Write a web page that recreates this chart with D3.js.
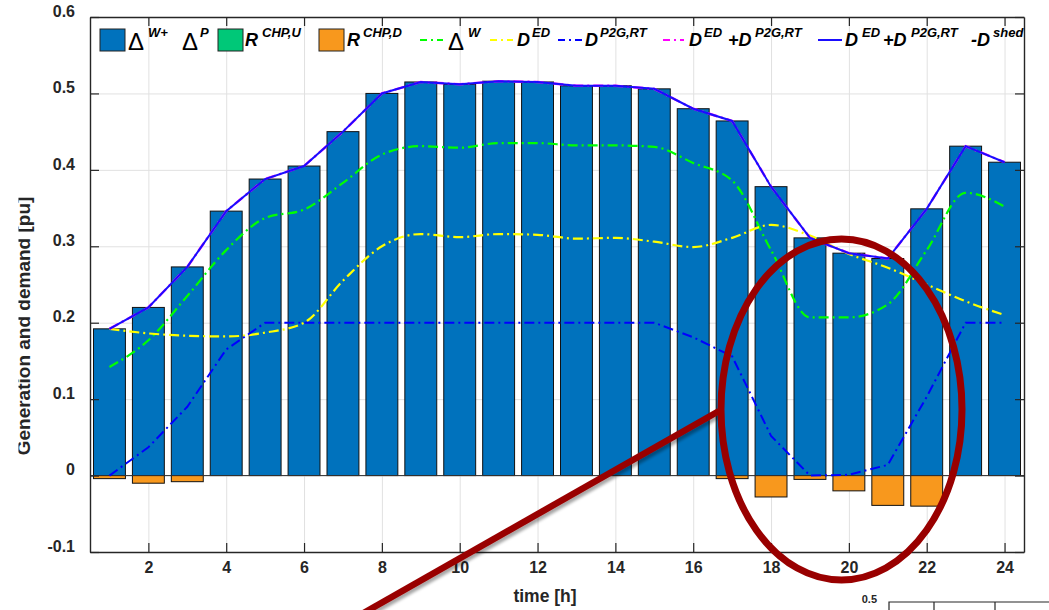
<!DOCTYPE html>
<html>
<head>
<meta charset="utf-8">
<script src="https://cdn.jsdelivr.net/npm/d3@7"></script>
<style>
  body { margin: 0; background: #fff; }
  svg { display: block; font-family: "Liberation Sans", Arial, sans-serif; }
</style>
</head>
<body>
<script>
// hourly values (pu)
var hours = d3.range(1, 25);
var xTicks = [2, 4, 6, 8, 10, 12, 14, 16, 18, 20, 22, 24];
var yTicks = [-0.1, 0, 0.1, 0.2, 0.3, 0.4, 0.5, 0.6];
var yTickLabels = ['-0.1', '0', '0.1', '0.2', '0.3', '0.4', '0.5', '0.6'];

var wPlus = [0.192, 0.220, 0.273, 0.346, 0.388, 0.405, 0.450, 0.500, 0.515, 0.512, 0.516, 0.515,
             0.510, 0.510, 0.506, 0.480, 0.464, 0.378, 0.311, 0.291, 0.284, 0.349, 0.431, 0.410];
var chpUp = [0, 0, 0, 0, 0, 0, 0, 0, 0, 0, 0, 0, 0, 0, 0, 0, 0, 0, 0, 0, 0, 0, 0, 0];
var chpDown = [-0.004, -0.010, -0.008, 0, 0, 0, 0, 0, 0, 0, 0, 0,
               0, 0, 0, 0, -0.004, -0.028, -0.005, -0.020, -0.039, -0.040, 0, 0];
var deltaW = [0.142, 0.177, 0.235, 0.295, 0.337, 0.348, 0.383, 0.420, 0.431, 0.429, 0.435, 0.435,
              0.432, 0.432, 0.430, 0.409, 0.386, 0.295, 0.207, 0.207, 0.224, 0.295, 0.370, 0.352];
var dED = [0.192, 0.186, 0.183, 0.182, 0.187, 0.200, 0.255, 0.300, 0.316, 0.312, 0.316, 0.315,
           0.310, 0.311, 0.306, 0.299, 0.311, 0.328, 0.314, 0.290, 0.272, 0.250, 0.228, 0.210];
var dP2G = [0, 0.037, 0.090, 0.165, 0.200, 0.200, 0.200, 0.200, 0.200, 0.200, 0.200, 0.200,
            0.200, 0.200, 0.200, 0.181, 0.156, 0.052, 0, 0.001, 0.014, 0.103, 0.200, 0.200];
// D_ED + D_P2G (shed is zero, so the solid line sits on the same points)
var dSum = [0.192, 0.220, 0.273, 0.346, 0.388, 0.405, 0.450, 0.500, 0.515, 0.512, 0.516, 0.515,
            0.510, 0.510, 0.506, 0.480, 0.464, 0.378, 0.311, 0.291, 0.284, 0.349, 0.431, 0.410];

var W = 1049, H = 610;
var pLeft = 90, pRight = 1024, pTop = 17, pBottom = 552;
var ink = '#262626';

var svg = d3.select('body').append('svg')
  .attr('width', W)
  .attr('height', H);

var x = d3.scaleLinear().domain([0.5, 24.5]).range([pLeft, pRight]);
var y = d3.scaleLinear().domain([-0.1, 0.6]).range([pBottom, pTop]);

// grid
svg.append('g')
  .attr('transform', 'translate(0,' + pBottom + ')')
  .call(d3.axisBottom(x).tickValues(xTicks).tickSize(-(pBottom - pTop)).tickFormat(''))
  .call(function(g) {
    g.select('.domain').remove();
    g.selectAll('line').attr('stroke', '#e1e1e1');
  });
svg.append('g')
  .attr('transform', 'translate(' + pLeft + ',0)')
  .call(d3.axisLeft(y).tickValues(yTicks).tickSize(-(pRight - pLeft)).tickFormat(''))
  .call(function(g) {
    g.select('.domain').remove();
    g.selectAll('line').attr('stroke', '#e1e1e1');
  });

// bars
var bw = 0.41;
var bars = svg.append('g');
bars.selectAll('rect.wp').data(hours).enter().append('rect')
  .attr('class', 'wp')
  .attr('x', function(h) { return x(h - bw); })
  .attr('width', function(h) { return x(h + bw) - x(h - bw); })
  .attr('y', function(h, i) { return y(wPlus[i]); })
  .attr('height', function(h, i) { return y(0) - y(wPlus[i]); })
  .attr('fill', '#0072BD')
  .attr('stroke', '#111')
  .attr('stroke-width', 1);
bars.selectAll('rect.cu').data(hours.filter(function(h, i) { return chpUp[i] > 0; })).enter().append('rect')
  .attr('class', 'cu')
  .attr('x', function(h) { return x(h - bw); })
  .attr('width', function(h) { return x(h + bw) - x(h - bw); })
  .attr('y', function(h) { return y(wPlus[h - 1] + chpUp[h - 1]); })
  .attr('height', function(h) { return y(0) - y(chpUp[h - 1]); })
  .attr('fill', '#00C878')
  .attr('stroke', '#111');
bars.selectAll('rect.cd').data(hours.filter(function(h, i) { return chpDown[i] < 0; })).enter().append('rect')
  .attr('class', 'cd')
  .attr('x', function(h) { return x(h - bw); })
  .attr('width', function(h) { return x(h + bw) - x(h - bw); })
  .attr('y', y(0))
  .attr('height', function(h) { return y(chpDown[h - 1]) - y(0); })
  .attr('fill', '#F8981D')
  .attr('stroke', '#111')
  .attr('stroke-width', 1);

// baseline
svg.append('line')
  .attr('x1', pLeft).attr('x2', pRight)
  .attr('y1', y(0)).attr('y2', y(0))
  .attr('stroke', '#333').attr('stroke-width', 1);

// lines
var smooth = d3.line()
  .x(function(d, i) { return x(hours[i]); })
  .y(function(d) { return y(d); })
  .curve(d3.curveMonotoneX);
var straight = d3.line()
  .x(function(d, i) { return x(hours[i]); })
  .y(function(d) { return y(d); });

var dashDot = '10,4,2,4';
svg.append('path').datum(deltaW).attr('d', smooth)
  .attr('fill', 'none').attr('stroke', '#00FF00').attr('stroke-width', 2.2).attr('stroke-dasharray', dashDot);
svg.append('path').datum(dED).attr('d', smooth)
  .attr('fill', 'none').attr('stroke', '#FFFF00').attr('stroke-width', 2.2).attr('stroke-dasharray', dashDot);
svg.append('path').datum(dP2G).attr('d', straight)
  .attr('fill', 'none').attr('stroke', '#0000FF').attr('stroke-width', 2).attr('stroke-dasharray', dashDot);
svg.append('path').datum(dSum).attr('d', straight)
  .attr('fill', 'none').attr('stroke', '#FF00FF').attr('stroke-width', 2.4).attr('stroke-dasharray', dashDot);
svg.append('path').datum(dSum).attr('d', straight)
  .attr('fill', 'none').attr('stroke', '#1A0DFF').attr('stroke-width', 2);

// axes box with inward ticks
function styleAxis(g) {
  g.select('.domain').attr('stroke', ink).attr('stroke-width', 1.4);
  g.selectAll('.tick line').attr('stroke', ink).attr('stroke-width', 1.2);
  g.selectAll('.tick text')
    .attr('fill', ink)
    .attr('font-size', 16)
    .attr('font-weight', 'bold');
}
svg.append('g')
  .attr('transform', 'translate(0,' + pBottom + ')')
  .call(d3.axisBottom(x).tickValues(xTicks).tickSizeInner(-9).tickSizeOuter(0).tickPadding(10))
  .call(styleAxis)
  .call(function(g) { g.selectAll('.tick text').attr('dy', '0.71em'); });
svg.append('g')
  .attr('transform', 'translate(0,' + pTop + ')')
  .call(d3.axisTop(x).tickValues(xTicks).tickSizeInner(-9).tickSizeOuter(0).tickFormat(''))
  .call(styleAxis);
svg.append('g')
  .attr('transform', 'translate(' + pLeft + ',0)')
  .call(d3.axisLeft(y).tickValues(yTicks).tickSizeInner(-9).tickSizeOuter(0).tickPadding(15)
    .tickFormat(function(d, i) { return yTickLabels[i]; }))
  .call(styleAxis)
  .call(function(g) { g.selectAll('.tick text').attr('dy', '-0.05em'); });
svg.append('g')
  .attr('transform', 'translate(' + pRight + ',0)')
  .call(d3.axisRight(y).tickValues(yTicks).tickSizeInner(-9).tickSizeOuter(0).tickFormat(''))
  .call(styleAxis);

// axis labels
svg.append('text')
  .attr('x', 545).attr('y', 602)
  .attr('text-anchor', 'middle')
  .attr('font-size', 17.5).attr('font-weight', 'bold').attr('fill', ink)
  .text('time [h]');

svg.append('clipPath').attr('id', 'ylabclip')
  .append('rect').attr('x', 18.5).attr('y', 0).attr('width', 60).attr('height', H);
svg.append('g')
  .attr('clip-path', 'url(#ylabclip)')
  .append('text')
  .attr('transform', 'translate(30,326) rotate(-90)')
  .attr('text-anchor', 'middle')
  .attr('font-size', 19).attr('font-weight', 'bold').attr('fill', ink)
  .text('Generation and demand [pu]');

// legend
var lg = svg.append('g').attr('font-weight', 'bold').attr('font-style', 'italic').attr('fill', '#000');
function swatch(x0, col) {
  lg.append('rect').attr('x', x0).attr('y', 29).attr('width', 25).attr('height', 22)
    .attr('fill', col).attr('stroke', '#222').attr('stroke-width', 1);
}
function seg(x0, x1, col, dash) {
  lg.append('line').attr('x1', x0).attr('x2', x1).attr('y1', 40).attr('y2', 40)
    .attr('stroke', col).attr('stroke-width', 2).attr('stroke-dasharray', dash || null);
}
function big(x0, s) {
  lg.append('text').attr('x', x0).attr('y', 46).attr('font-size', 18).text(s);
}
function sup(x0, s) {
  lg.append('text').attr('x', x0).attr('y', 37).attr('font-size', 13).text(s);
}
function delta(x0) {
  lg.append('text').attr('x', x0).attr('y', 50).attr('font-size', 24)
    .attr('font-weight', 'normal').attr('font-style', 'normal').text('\u0394');
}
swatch(100, '#0072BD');
delta(128); sup(148, 'W+');
delta(182); sup(200, 'P');
swatch(218, '#00C878');
big(245, 'R'); sup(262, 'CHP,U');
swatch(319, '#F8981D');
big(347, 'R'); sup(363, 'CHP,D');
seg(420, 443, '#00FF00', '7,4,2,4');
delta(448); sup(468, 'W');
seg(490, 513, '#FFFF00', '7,4,2,4');
big(517, 'D'); sup(532, 'ED');
seg(558, 582, '#0000FF', '7,4,2,4');
big(585, 'D'); sup(600, 'P2G,RT');
seg(663, 684, '#FF00FF', '7,4,2,4');
big(689, 'D'); sup(704, 'ED'); big(728, '+D'); sup(755, 'P2G,RT');
seg(818, 842, '#1A0DFF');
big(845, 'D'); sup(862, 'ED'); big(883, '+D'); sup(911, 'P2G,RT');
big(971, '-D'); sup(993, 'shed');

// annotation: ellipse and pointer
var defs = svg.append('defs');
var f = defs.append('filter').attr('id', 'shadow').attr('x', '-20%').attr('y', '-20%').attr('width', '140%').attr('height', '140%');
f.append('feDropShadow').attr('dx', 2).attr('dy', 3).attr('stdDeviation', 1.5)
  .attr('flood-color', '#000').attr('flood-opacity', 0.35);

svg.append('line')
  .attr('x1', 719).attr('y1', 411).attr('x2', 360).attr('y2', 615)
  .attr('stroke', '#990000').attr('stroke-width', 6.5)
  .attr('filter', 'url(#shadow)');
svg.append('ellipse')
  .attr('cx', 841.5).attr('cy', 409.5).attr('rx', 120.5).attr('ry', 170.5)
  .attr('fill', 'none').attr('stroke', '#990000').attr('stroke-width', 7);

// corner of the next panel peeking in
var inset = svg.append('g');
inset.append('text').attr('x', 877).attr('y', 603).attr('text-anchor', 'end')
  .attr('font-size', 11).attr('font-weight', 'bold').attr('fill', ink).text('0.5');
inset.append('path').attr('d', 'M889,612V602H1049')
  .attr('fill', 'none').attr('stroke', ink).attr('stroke-width', 1.2);
inset.selectAll('line').data([934, 995]).enter().append('line')
  .attr('x1', function(d) { return d; }).attr('x2', function(d) { return d; })
  .attr('y1', 602).attr('y2', 610)
  .attr('stroke', ink).attr('stroke-width', 1.2);
</script>
</body>
</html>
